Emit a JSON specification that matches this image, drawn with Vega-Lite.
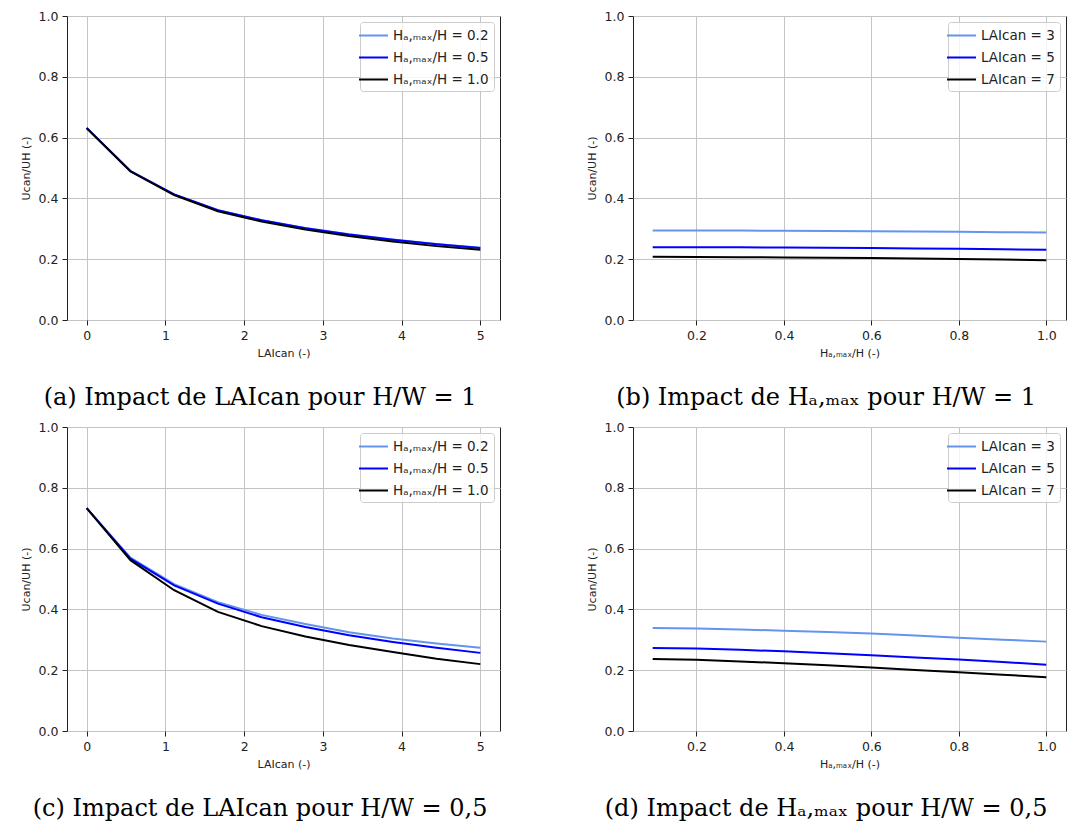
{
  "$schema": "https://vega.github.io/schema/vega-lite/v6.json",
  "padding": {"left": 19, "top": 9, "right": 0, "bottom": 0},
  "background": "white",
  "config": {
    "font": "DejaVu Sans",
    "view": {"stroke": "#222", "strokeWidth": 1},
    "axis": {
      "grid": true, "gridColor": "#c4c4c4", "gridWidth": 1, "domain": false,
      "tickColor": "#222", "tickSize": 5, "tickWidth": 1,
      "labelFont": "DejaVu Sans", "labelFontSize": 12.5, "labelColor": "#222", "labelPadding": 4,
      "titleFont": "DejaVu Sans", "titleFontSize": 11, "titleFontWeight": "normal", "titleColor": "#222"
    },
    "axisY": {"titlePadding": 7},
    "axisX": {"titlePadding": 6, "labelAngle": 0},
    "legend": {
      "orient": "top-right", "offset": 6, "title": null,
      "fillColor": "rgba(255,255,255,0.8)", "strokeColor": "#cccccc", "cornerRadius": 3,
      "padding": 5, "symbolType": "M-2,0L2,0", "symbolSize": 210, "symbolStrokeWidth": 2,
      "rowPadding": 7, "labelFont": "DejaVu Sans", "labelFontSize": 13.5, "labelColor": "#222", "labelOffset": 11
    },
    "title": {"orient": "bottom", "anchor": "middle", "frame": "bounds", "font": "DejaVu Serif", "fontSize": 24, "fontWeight": "normal", "color": "#000", "offset": 27},
    "line": {"strokeWidth": 2}
  },
  "datasets": {
    "a": [
      {"x": 0, "y": 0.632, "s": "Hₐ,ₘₐₓ/H = 0.2"}, {"x": 0.556, "y": 0.490, "s": "Hₐ,ₘₐₓ/H = 0.2"}, {"x": 1.111, "y": 0.413, "s": "Hₐ,ₘₐₓ/H = 0.2"}, {"x": 1.667, "y": 0.361, "s": "Hₐ,ₘₐₓ/H = 0.2"}, {"x": 2.222, "y": 0.328, "s": "Hₐ,ₘₐₓ/H = 0.2"}, {"x": 2.778, "y": 0.303, "s": "Hₐ,ₘₐₓ/H = 0.2"}, {"x": 3.333, "y": 0.282, "s": "Hₐ,ₘₐₓ/H = 0.2"}, {"x": 3.889, "y": 0.265, "s": "Hₐ,ₘₐₓ/H = 0.2"}, {"x": 4.444, "y": 0.250, "s": "Hₐ,ₘₐₓ/H = 0.2"}, {"x": 5, "y": 0.238, "s": "Hₐ,ₘₐₓ/H = 0.2"},
      {"x": 0, "y": 0.632, "s": "Hₐ,ₘₐₓ/H = 0.5"}, {"x": 0.556, "y": 0.490, "s": "Hₐ,ₘₐₓ/H = 0.5"}, {"x": 1.111, "y": 0.413, "s": "Hₐ,ₘₐₓ/H = 0.5"}, {"x": 1.667, "y": 0.361, "s": "Hₐ,ₘₐₓ/H = 0.5"}, {"x": 2.222, "y": 0.328, "s": "Hₐ,ₘₐₓ/H = 0.5"}, {"x": 2.778, "y": 0.302, "s": "Hₐ,ₘₐₓ/H = 0.5"}, {"x": 3.333, "y": 0.281, "s": "Hₐ,ₘₐₓ/H = 0.5"}, {"x": 3.889, "y": 0.264, "s": "Hₐ,ₘₐₓ/H = 0.5"}, {"x": 4.444, "y": 0.249, "s": "Hₐ,ₘₐₓ/H = 0.5"}, {"x": 5, "y": 0.237, "s": "Hₐ,ₘₐₓ/H = 0.5"},
      {"x": 0, "y": 0.631, "s": "Hₐ,ₘₐₓ/H = 1.0"}, {"x": 0.556, "y": 0.489, "s": "Hₐ,ₘₐₓ/H = 1.0"}, {"x": 1.111, "y": 0.411, "s": "Hₐ,ₘₐₓ/H = 1.0"}, {"x": 1.667, "y": 0.358, "s": "Hₐ,ₘₐₓ/H = 1.0"}, {"x": 2.222, "y": 0.324, "s": "Hₐ,ₘₐₓ/H = 1.0"}, {"x": 2.778, "y": 0.298, "s": "Hₐ,ₘₐₓ/H = 1.0"}, {"x": 3.333, "y": 0.276, "s": "Hₐ,ₘₐₓ/H = 1.0"}, {"x": 3.889, "y": 0.258, "s": "Hₐ,ₘₐₓ/H = 1.0"}, {"x": 4.444, "y": 0.243, "s": "Hₐ,ₘₐₓ/H = 1.0"}, {"x": 5, "y": 0.231, "s": "Hₐ,ₘₐₓ/H = 1.0"}
    ],
    "b": [
      {"x": 0.1, "y": 0.2945, "s": "LAIcan = 3"}, {"x": 0.2, "y": 0.2943, "s": "LAIcan = 3"}, {"x": 0.3, "y": 0.2940, "s": "LAIcan = 3"}, {"x": 0.4, "y": 0.2935, "s": "LAIcan = 3"}, {"x": 0.5, "y": 0.2928, "s": "LAIcan = 3"}, {"x": 0.6, "y": 0.2920, "s": "LAIcan = 3"}, {"x": 0.7, "y": 0.2910, "s": "LAIcan = 3"}, {"x": 0.8, "y": 0.2900, "s": "LAIcan = 3"}, {"x": 0.9, "y": 0.2890, "s": "LAIcan = 3"}, {"x": 1.0, "y": 0.2880, "s": "LAIcan = 3"},
      {"x": 0.1, "y": 0.2396, "s": "LAIcan = 5"}, {"x": 0.2, "y": 0.2394, "s": "LAIcan = 5"}, {"x": 0.3, "y": 0.2390, "s": "LAIcan = 5"}, {"x": 0.4, "y": 0.2383, "s": "LAIcan = 5"}, {"x": 0.5, "y": 0.2375, "s": "LAIcan = 5"}, {"x": 0.6, "y": 0.2365, "s": "LAIcan = 5"}, {"x": 0.7, "y": 0.2352, "s": "LAIcan = 5"}, {"x": 0.8, "y": 0.2340, "s": "LAIcan = 5"}, {"x": 0.9, "y": 0.2325, "s": "LAIcan = 5"}, {"x": 1.0, "y": 0.2308, "s": "LAIcan = 5"},
      {"x": 0.1, "y": 0.2077, "s": "LAIcan = 7"}, {"x": 0.2, "y": 0.2074, "s": "LAIcan = 7"}, {"x": 0.3, "y": 0.2068, "s": "LAIcan = 7"}, {"x": 0.4, "y": 0.2060, "s": "LAIcan = 7"}, {"x": 0.5, "y": 0.2050, "s": "LAIcan = 7"}, {"x": 0.6, "y": 0.2038, "s": "LAIcan = 7"}, {"x": 0.7, "y": 0.2023, "s": "LAIcan = 7"}, {"x": 0.8, "y": 0.2005, "s": "LAIcan = 7"}, {"x": 0.9, "y": 0.1987, "s": "LAIcan = 7"}, {"x": 1.0, "y": 0.1967, "s": "LAIcan = 7"}
    ],
    "c": [
      {"x": 0, "y": 0.733, "s": "Hₐ,ₘₐₓ/H = 0.2"}, {"x": 0.556, "y": 0.570, "s": "Hₐ,ₘₐₓ/H = 0.2"}, {"x": 1.111, "y": 0.483, "s": "Hₐ,ₘₐₓ/H = 0.2"}, {"x": 1.667, "y": 0.424, "s": "Hₐ,ₘₐₓ/H = 0.2"}, {"x": 2.222, "y": 0.382, "s": "Hₐ,ₘₐₓ/H = 0.2"}, {"x": 2.778, "y": 0.352, "s": "Hₐ,ₘₐₓ/H = 0.2"}, {"x": 3.333, "y": 0.325, "s": "Hₐ,ₘₐₓ/H = 0.2"}, {"x": 3.889, "y": 0.304, "s": "Hₐ,ₘₐₓ/H = 0.2"}, {"x": 4.444, "y": 0.288, "s": "Hₐ,ₘₐₓ/H = 0.2"}, {"x": 5, "y": 0.274, "s": "Hₐ,ₘₐₓ/H = 0.2"},
      {"x": 0, "y": 0.733, "s": "Hₐ,ₘₐₓ/H = 0.5"}, {"x": 0.556, "y": 0.567, "s": "Hₐ,ₘₐₓ/H = 0.5"}, {"x": 1.111, "y": 0.479, "s": "Hₐ,ₘₐₓ/H = 0.5"}, {"x": 1.667, "y": 0.419, "s": "Hₐ,ₘₐₓ/H = 0.5"}, {"x": 2.222, "y": 0.374, "s": "Hₐ,ₘₐₓ/H = 0.5"}, {"x": 2.778, "y": 0.342, "s": "Hₐ,ₘₐₓ/H = 0.5"}, {"x": 3.333, "y": 0.315, "s": "Hₐ,ₘₐₓ/H = 0.5"}, {"x": 3.889, "y": 0.293, "s": "Hₐ,ₘₐₓ/H = 0.5"}, {"x": 4.444, "y": 0.274, "s": "Hₐ,ₘₐₓ/H = 0.5"}, {"x": 5, "y": 0.257, "s": "Hₐ,ₘₐₓ/H = 0.5"},
      {"x": 0, "y": 0.733, "s": "Hₐ,ₘₐₓ/H = 1.0"}, {"x": 0.556, "y": 0.562, "s": "Hₐ,ₘₐₓ/H = 1.0"}, {"x": 1.111, "y": 0.463, "s": "Hₐ,ₘₐₓ/H = 1.0"}, {"x": 1.667, "y": 0.392, "s": "Hₐ,ₘₐₓ/H = 1.0"}, {"x": 2.222, "y": 0.345, "s": "Hₐ,ₘₐₓ/H = 1.0"}, {"x": 2.778, "y": 0.311, "s": "Hₐ,ₘₐₓ/H = 1.0"}, {"x": 3.333, "y": 0.283, "s": "Hₐ,ₘₐₓ/H = 1.0"}, {"x": 3.889, "y": 0.260, "s": "Hₐ,ₘₐₓ/H = 1.0"}, {"x": 4.444, "y": 0.238, "s": "Hₐ,ₘₐₓ/H = 1.0"}, {"x": 5, "y": 0.220, "s": "Hₐ,ₘₐₓ/H = 1.0"}
    ],
    "d": [
      {"x": 0.1, "y": 0.339, "s": "LAIcan = 3"}, {"x": 0.2, "y": 0.337, "s": "LAIcan = 3"}, {"x": 0.3, "y": 0.334, "s": "LAIcan = 3"}, {"x": 0.4, "y": 0.330, "s": "LAIcan = 3"}, {"x": 0.5, "y": 0.3255, "s": "LAIcan = 3"}, {"x": 0.6, "y": 0.3205, "s": "LAIcan = 3"}, {"x": 0.7, "y": 0.314, "s": "LAIcan = 3"}, {"x": 0.8, "y": 0.307, "s": "LAIcan = 3"}, {"x": 0.9, "y": 0.3005, "s": "LAIcan = 3"}, {"x": 1.0, "y": 0.294, "s": "LAIcan = 3"},
      {"x": 0.1, "y": 0.273, "s": "LAIcan = 5"}, {"x": 0.2, "y": 0.271, "s": "LAIcan = 5"}, {"x": 0.3, "y": 0.267, "s": "LAIcan = 5"}, {"x": 0.4, "y": 0.262, "s": "LAIcan = 5"}, {"x": 0.5, "y": 0.256, "s": "LAIcan = 5"}, {"x": 0.6, "y": 0.249, "s": "LAIcan = 5"}, {"x": 0.7, "y": 0.242, "s": "LAIcan = 5"}, {"x": 0.8, "y": 0.235, "s": "LAIcan = 5"}, {"x": 0.9, "y": 0.227, "s": "LAIcan = 5"}, {"x": 1.0, "y": 0.218, "s": "LAIcan = 5"},
      {"x": 0.1, "y": 0.237, "s": "LAIcan = 7"}, {"x": 0.2, "y": 0.234, "s": "LAIcan = 7"}, {"x": 0.3, "y": 0.229, "s": "LAIcan = 7"}, {"x": 0.4, "y": 0.223, "s": "LAIcan = 7"}, {"x": 0.5, "y": 0.216, "s": "LAIcan = 7"}, {"x": 0.6, "y": 0.2086, "s": "LAIcan = 7"}, {"x": 0.7, "y": 0.201, "s": "LAIcan = 7"}, {"x": 0.8, "y": 0.193, "s": "LAIcan = 7"}, {"x": 0.9, "y": 0.185, "s": "LAIcan = 7"}, {"x": 1.0, "y": 0.177, "s": "LAIcan = 7"}
    ]
  },
  "columns": 2,
  "spacing": {"column": 84, "row": 10},
  "resolve": {"scale": {"x": "independent", "y": "independent", "color": "independent"}, "legend": {"color": "independent"}},
  "concat": [
    {
      "width": 433, "height": 304,
      "title": "(a) Impact de LAIcan pour H/W = 1",
      "data": {"name": "a"},
      "mark": {"type": "line"},
      "encoding": {
        "x": {"field": "x", "type": "quantitative", "title": "LAIcan (-)", "scale": {"domain": [-0.25, 5.25], "nice": false, "zero": false}, "axis": {"values": [0, 1, 2, 3, 4, 5], "format": "d"}},
        "y": {"field": "y", "type": "quantitative", "title": "Ucan/UH (-)", "scale": {"domain": [0, 1], "nice": false}, "axis": {"values": [0, 0.2, 0.4, 0.6, 0.8, 1.0], "format": ".1f"}},
        "color": {"field": "s", "type": "nominal", "sort": null, "scale": {"domain": ["Hₐ,ₘₐₓ/H = 0.2", "Hₐ,ₘₐₓ/H = 0.5", "Hₐ,ₘₐₓ/H = 1.0"], "range": ["#6495ED", "#0000FF", "#000000"]}}
      }
    },
    {
      "width": 433, "height": 304,
      "title": "(b) Impact de Hₐ,ₘₐₓ pour H/W = 1",
      "data": {"name": "b"},
      "mark": {"type": "line"},
      "encoding": {
        "x": {"field": "x", "type": "quantitative", "title": "Hₐ,ₘₐₓ/H (-)", "scale": {"domain": [0.055, 1.045], "nice": false, "zero": false}, "axis": {"values": [0.2, 0.4, 0.6, 0.8, 1.0], "format": ".1f"}},
        "y": {"field": "y", "type": "quantitative", "title": "Ucan/UH (-)", "scale": {"domain": [0, 1], "nice": false}, "axis": {"values": [0, 0.2, 0.4, 0.6, 0.8, 1.0], "format": ".1f"}},
        "color": {"field": "s", "type": "nominal", "sort": null, "scale": {"domain": ["LAIcan = 3", "LAIcan = 5", "LAIcan = 7"], "range": ["#6495ED", "#0000FF", "#000000"]}}
      }
    },
    {
      "width": 433, "height": 304,
      "title": "(c) Impact de LAIcan pour H/W = 0,5",
      "data": {"name": "c"},
      "mark": {"type": "line"},
      "encoding": {
        "x": {"field": "x", "type": "quantitative", "title": "LAIcan (-)", "scale": {"domain": [-0.25, 5.25], "nice": false, "zero": false}, "axis": {"values": [0, 1, 2, 3, 4, 5], "format": "d"}},
        "y": {"field": "y", "type": "quantitative", "title": "Ucan/UH (-)", "scale": {"domain": [0, 1], "nice": false}, "axis": {"values": [0, 0.2, 0.4, 0.6, 0.8, 1.0], "format": ".1f"}},
        "color": {"field": "s", "type": "nominal", "sort": null, "scale": {"domain": ["Hₐ,ₘₐₓ/H = 0.2", "Hₐ,ₘₐₓ/H = 0.5", "Hₐ,ₘₐₓ/H = 1.0"], "range": ["#6495ED", "#0000FF", "#000000"]}}
      }
    },
    {
      "width": 433, "height": 304,
      "title": "(d) Impact de Hₐ,ₘₐₓ pour H/W = 0,5",
      "data": {"name": "d"},
      "mark": {"type": "line"},
      "encoding": {
        "x": {"field": "x", "type": "quantitative", "title": "Hₐ,ₘₐₓ/H (-)", "scale": {"domain": [0.055, 1.045], "nice": false, "zero": false}, "axis": {"values": [0.2, 0.4, 0.6, 0.8, 1.0], "format": ".1f"}},
        "y": {"field": "y", "type": "quantitative", "title": "Ucan/UH (-)", "scale": {"domain": [0, 1], "nice": false}, "axis": {"values": [0, 0.2, 0.4, 0.6, 0.8, 1.0], "format": ".1f"}},
        "color": {"field": "s", "type": "nominal", "sort": null, "scale": {"domain": ["LAIcan = 3", "LAIcan = 5", "LAIcan = 7"], "range": ["#6495ED", "#0000FF", "#000000"]}}
      }
    }
  ]
}
